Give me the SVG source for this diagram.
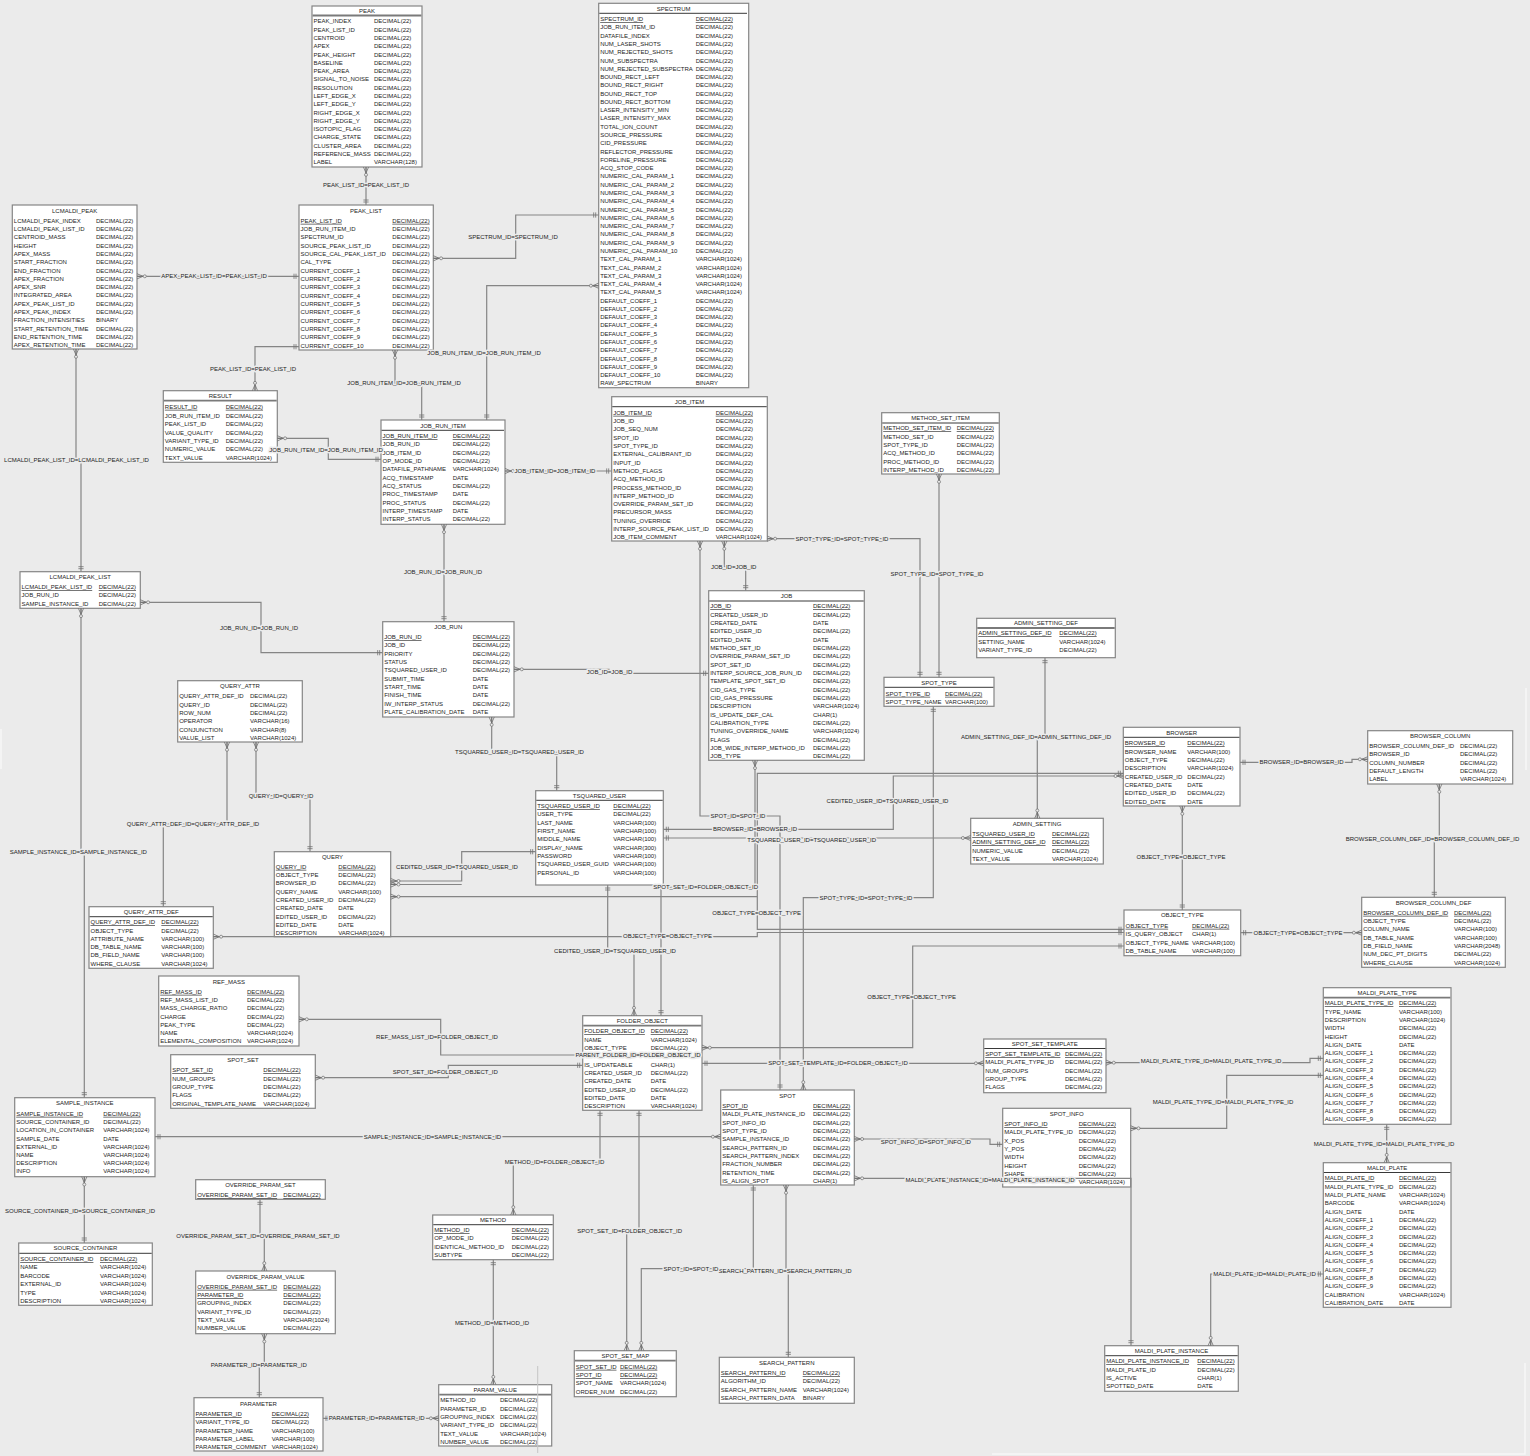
<svg xmlns="http://www.w3.org/2000/svg" width="1530" height="1456" viewBox="0 0 1530 1456">
<style>
.tb{fill:#fff;stroke:#858585;stroke-width:1.2}
.t{font-family:"Liberation Sans",Arial,sans-serif;font-size:6px;fill:#1c1c1c}
.tt{text-anchor:middle}
.pk{text-decoration:underline}
.sp{stroke:#7a7a7a;stroke-width:1.8}
.sk{stroke:#222;stroke-width:0.9}
.c{fill:none;stroke:#858585;stroke-width:1.2}
.m1{marker-start:url(#many)}
.o1{marker-start:url(#one)}
.m2{marker-end:url(#many)}
.o2{marker-end:url(#one)}
.lb{font-family:"Liberation Sans",Arial,sans-serif;font-size:6px;fill:#1c1c1c;text-anchor:middle;paint-order:stroke;stroke:#ebebeb;stroke-width:3px;stroke-linejoin:round}
</style>
<defs>
<marker id="many" viewBox="-10 -5 12 10" refX="0" refY="0" markerWidth="12" markerHeight="10" markerUnits="userSpaceOnUse" orient="auto-start-reverse">
<path d="M-6,0L0,-2.6M-6,0L0,2.6M-6,0H0" fill="none" stroke="#6e6e6e" stroke-width="0.8"/>
<circle cx="-7.8" cy="0" r="1.5" fill="#ebebeb" stroke="#6e6e6e" stroke-width="0.7"/>
</marker>
<marker id="one" viewBox="-10 -5 12 10" refX="0" refY="0" markerWidth="12" markerHeight="10" markerUnits="userSpaceOnUse" orient="auto-start-reverse">
<path d="M-3,-2.6V2.6M-5,-2.6V2.6" fill="none" stroke="#6e6e6e" stroke-width="0.8"/>
</marker>
</defs>
<rect width="1530" height="1456" fill="#ebebeb"/>

<g id="tables">
<g id="t-peak">
<rect class="tb" x="312" y="6" width="110" height="161"/>
<text class="t tt" x="367" y="13.2">PEAK</text>
<line class="sp" x1="312.6" y1="15.5" x2="421.4" y2="15.5"/>
<text class="t" y="23.4"><tspan x="313.5">PEAK_INDEX</tspan><tspan x="313.5" dy="8.29">PEAK_LIST_ID</tspan><tspan x="313.5" dy="8.29">CENTROID</tspan><tspan x="313.5" dy="8.29">APEX</tspan><tspan x="313.5" dy="8.29">PEAK_HEIGHT</tspan><tspan x="313.5" dy="8.29">BASELINE</tspan><tspan x="313.5" dy="8.29">PEAK_AREA</tspan><tspan x="313.5" dy="8.29">SIGNAL_TO_NOISE</tspan><tspan x="313.5" dy="8.29">RESOLUTION</tspan><tspan x="313.5" dy="8.29">LEFT_EDGE_X</tspan><tspan x="313.5" dy="8.29">LEFT_EDGE_Y</tspan><tspan x="313.5" dy="8.29">RIGHT_EDGE_X</tspan><tspan x="313.5" dy="8.29">RIGHT_EDGE_Y</tspan><tspan x="313.5" dy="8.29">ISOTOPIC_FLAG</tspan><tspan x="313.5" dy="8.29">CHARGE_STATE</tspan><tspan x="313.5" dy="8.29">CLUSTER_AREA</tspan><tspan x="313.5" dy="8.29">REFERENCE_MASS</tspan><tspan x="313.5" dy="8.29">LABEL</tspan></text>
<text class="t" y="23.4"><tspan x="374">DECIMAL(22)</tspan><tspan x="374" dy="8.29">DECIMAL(22)</tspan><tspan x="374" dy="8.29">DECIMAL(22)</tspan><tspan x="374" dy="8.29">DECIMAL(22)</tspan><tspan x="374" dy="8.29">DECIMAL(22)</tspan><tspan x="374" dy="8.29">DECIMAL(22)</tspan><tspan x="374" dy="8.29">DECIMAL(22)</tspan><tspan x="374" dy="8.29">DECIMAL(22)</tspan><tspan x="374" dy="8.29">DECIMAL(22)</tspan><tspan x="374" dy="8.29">DECIMAL(22)</tspan><tspan x="374" dy="8.29">DECIMAL(22)</tspan><tspan x="374" dy="8.29">DECIMAL(22)</tspan><tspan x="374" dy="8.29">DECIMAL(22)</tspan><tspan x="374" dy="8.29">DECIMAL(22)</tspan><tspan x="374" dy="8.29">DECIMAL(22)</tspan><tspan x="374" dy="8.29">DECIMAL(22)</tspan><tspan x="374" dy="8.29">DECIMAL(22)</tspan><tspan x="374" dy="8.29">VARCHAR(128)</tspan></text>
</g>

<g id="t-peak-list">
<rect class="tb" x="299" y="205" width="134.3" height="145"/>
<text class="t tt" x="366" y="212.8">PEAK_LIST</text>
<text class="t pk" x="300.5" y="222.8">PEAK_LIST_ID</text><text class="t pk" x="392.3" y="222.8">DECIMAL(22)</text>
<text class="t" y="231.1"><tspan x="300.5">JOB_RUN_ITEM_ID</tspan><tspan x="300.5" dy="8.33">SPECTRUM_ID</tspan><tspan x="300.5" dy="8.33">SOURCE_PEAK_LIST_ID</tspan><tspan x="300.5" dy="8.33">SOURCE_CAL_PEAK_LIST_ID</tspan><tspan x="300.5" dy="8.33">CAL_TYPE</tspan><tspan x="300.5" dy="8.33">CURRENT_COEFF_1</tspan><tspan x="300.5" dy="8.33">CURRENT_COEFF_2</tspan><tspan x="300.5" dy="8.33">CURRENT_COEFF_3</tspan><tspan x="300.5" dy="8.33">CURRENT_COEFF_4</tspan><tspan x="300.5" dy="8.33">CURRENT_COEFF_5</tspan><tspan x="300.5" dy="8.33">CURRENT_COEFF_6</tspan><tspan x="300.5" dy="8.33">CURRENT_COEFF_7</tspan><tspan x="300.5" dy="8.33">CURRENT_COEFF_8</tspan><tspan x="300.5" dy="8.33">CURRENT_COEFF_9</tspan><tspan x="300.5" dy="8.33">CURRENT_COEFF_10</tspan></text>
<text class="t" y="231.1"><tspan x="392.3">DECIMAL(22)</tspan><tspan x="392.3" dy="8.33">DECIMAL(22)</tspan><tspan x="392.3" dy="8.33">DECIMAL(22)</tspan><tspan x="392.3" dy="8.33">DECIMAL(22)</tspan><tspan x="392.3" dy="8.33">DECIMAL(22)</tspan><tspan x="392.3" dy="8.33">DECIMAL(22)</tspan><tspan x="392.3" dy="8.33">DECIMAL(22)</tspan><tspan x="392.3" dy="8.33">DECIMAL(22)</tspan><tspan x="392.3" dy="8.33">DECIMAL(22)</tspan><tspan x="392.3" dy="8.33">DECIMAL(22)</tspan><tspan x="392.3" dy="8.33">DECIMAL(22)</tspan><tspan x="392.3" dy="8.33">DECIMAL(22)</tspan><tspan x="392.3" dy="8.33">DECIMAL(22)</tspan><tspan x="392.3" dy="8.33">DECIMAL(22)</tspan><tspan x="392.3" dy="8.33">DECIMAL(22)</tspan></text>
</g>

<g id="t-lcmaldi-peak">
<rect class="tb" x="12.3" y="205" width="124.7" height="144"/>
<text class="t tt" x="74.7" y="212.8">LCMALDI_PEAK</text>
<text class="t" y="222.8"><tspan x="13.8">LCMALDI_PEAK_INDEX</tspan><tspan x="13.8" dy="8.29">LCMALDI_PEAK_LIST_ID</tspan><tspan x="13.8" dy="8.29">CENTROID_MASS</tspan><tspan x="13.8" dy="8.29">HEIGHT</tspan><tspan x="13.8" dy="8.29">APEX_MASS</tspan><tspan x="13.8" dy="8.29">START_FRACTION</tspan><tspan x="13.8" dy="8.29">END_FRACTION</tspan><tspan x="13.8" dy="8.29">APEX_FRACTION</tspan><tspan x="13.8" dy="8.29">APEX_SNR</tspan><tspan x="13.8" dy="8.29">INTEGRATED_AREA</tspan><tspan x="13.8" dy="8.29">APEX_PEAK_LIST_ID</tspan><tspan x="13.8" dy="8.29">APEX_PEAK_INDEX</tspan><tspan x="13.8" dy="8.29">FRACTION_INTENSITIES</tspan><tspan x="13.8" dy="8.29">START_RETENTION_TIME</tspan><tspan x="13.8" dy="8.29">END_RETENTION_TIME</tspan><tspan x="13.8" dy="8.29">APEX_RETENTION_TIME</tspan></text>
<text class="t" y="222.8"><tspan x="96">DECIMAL(22)</tspan><tspan x="96" dy="8.29">DECIMAL(22)</tspan><tspan x="96" dy="8.29">DECIMAL(22)</tspan><tspan x="96" dy="8.29">DECIMAL(22)</tspan><tspan x="96" dy="8.29">DECIMAL(22)</tspan><tspan x="96" dy="8.29">DECIMAL(22)</tspan><tspan x="96" dy="8.29">DECIMAL(22)</tspan><tspan x="96" dy="8.29">DECIMAL(22)</tspan><tspan x="96" dy="8.29">DECIMAL(22)</tspan><tspan x="96" dy="8.29">DECIMAL(22)</tspan><tspan x="96" dy="8.29">DECIMAL(22)</tspan><tspan x="96" dy="8.29">DECIMAL(22)</tspan><tspan x="96" dy="8.29">BINARY</tspan><tspan x="96" dy="8.29">DECIMAL(22)</tspan><tspan x="96" dy="8.29">DECIMAL(22)</tspan><tspan x="96" dy="8.29">DECIMAL(22)</tspan></text>
</g>

<g id="t-spectrum">
<rect class="tb" x="598.7" y="3.3" width="150" height="384.4"/>
<text class="t tt" x="673.7" y="11.1">SPECTRUM</text>
<line class="sk" x1="599.3" y1="13.3" x2="747" y2="13.3"/>
<text class="t pk" x="600.2" y="21.1">SPECTRUM_ID</text><text class="t pk" x="695.7" y="21.1">DECIMAL(22)</text>
<text class="t" y="29.4"><tspan x="600.2">JOB_RUN_ITEM_ID</tspan><tspan x="600.2" dy="8.28">DATAFILE_INDEX</tspan><tspan x="600.2" dy="8.28">NUM_LASER_SHOTS</tspan><tspan x="600.2" dy="8.28">NUM_REJECTED_SHOTS</tspan><tspan x="600.2" dy="8.28">NUM_SUBSPECTRA</tspan><tspan x="600.2" dy="8.28">NUM_REJECTED_SUBSPECTRA</tspan><tspan x="600.2" dy="8.28">BOUND_RECT_LEFT</tspan><tspan x="600.2" dy="8.28">BOUND_RECT_RIGHT</tspan><tspan x="600.2" dy="8.28">BOUND_RECT_TOP</tspan><tspan x="600.2" dy="8.28">BOUND_RECT_BOTTOM</tspan><tspan x="600.2" dy="8.28">LASER_INTENSITY_MIN</tspan><tspan x="600.2" dy="8.28">LASER_INTENSITY_MAX</tspan><tspan x="600.2" dy="8.28">TOTAL_ION_COUNT</tspan><tspan x="600.2" dy="8.28">SOURCE_PRESSURE</tspan><tspan x="600.2" dy="8.28">CID_PRESSURE</tspan><tspan x="600.2" dy="8.28">REFLECTOR_PRESSURE</tspan><tspan x="600.2" dy="8.28">FORELINE_PRESSURE</tspan><tspan x="600.2" dy="8.28">ACQ_STOP_CODE</tspan><tspan x="600.2" dy="8.28">NUMERIC_CAL_PARAM_1</tspan><tspan x="600.2" dy="8.28">NUMERIC_CAL_PARAM_2</tspan><tspan x="600.2" dy="8.28">NUMERIC_CAL_PARAM_3</tspan><tspan x="600.2" dy="8.28">NUMERIC_CAL_PARAM_4</tspan><tspan x="600.2" dy="8.28">NUMERIC_CAL_PARAM_5</tspan><tspan x="600.2" dy="8.28">NUMERIC_CAL_PARAM_6</tspan><tspan x="600.2" dy="8.28">NUMERIC_CAL_PARAM_7</tspan><tspan x="600.2" dy="8.28">NUMERIC_CAL_PARAM_8</tspan><tspan x="600.2" dy="8.28">NUMERIC_CAL_PARAM_9</tspan><tspan x="600.2" dy="8.28">NUMERIC_CAL_PARAM_10</tspan><tspan x="600.2" dy="8.28">TEXT_CAL_PARAM_1</tspan><tspan x="600.2" dy="8.28">TEXT_CAL_PARAM_2</tspan><tspan x="600.2" dy="8.28">TEXT_CAL_PARAM_3</tspan><tspan x="600.2" dy="8.28">TEXT_CAL_PARAM_4</tspan><tspan x="600.2" dy="8.28">TEXT_CAL_PARAM_5</tspan><tspan x="600.2" dy="8.28">DEFAULT_COEFF_1</tspan><tspan x="600.2" dy="8.28">DEFAULT_COEFF_2</tspan><tspan x="600.2" dy="8.28">DEFAULT_COEFF_3</tspan><tspan x="600.2" dy="8.28">DEFAULT_COEFF_4</tspan><tspan x="600.2" dy="8.28">DEFAULT_COEFF_5</tspan><tspan x="600.2" dy="8.28">DEFAULT_COEFF_6</tspan><tspan x="600.2" dy="8.28">DEFAULT_COEFF_7</tspan><tspan x="600.2" dy="8.28">DEFAULT_COEFF_8</tspan><tspan x="600.2" dy="8.28">DEFAULT_COEFF_9</tspan><tspan x="600.2" dy="8.28">DEFAULT_COEFF_10</tspan><tspan x="600.2" dy="8.28">RAW_SPECTRUM</tspan></text>
<text class="t" y="29.4"><tspan x="695.7">DECIMAL(22)</tspan><tspan x="695.7" dy="8.28">DECIMAL(22)</tspan><tspan x="695.7" dy="8.28">DECIMAL(22)</tspan><tspan x="695.7" dy="8.28">DECIMAL(22)</tspan><tspan x="695.7" dy="8.28">DECIMAL(22)</tspan><tspan x="695.7" dy="8.28">DECIMAL(22)</tspan><tspan x="695.7" dy="8.28">DECIMAL(22)</tspan><tspan x="695.7" dy="8.28">DECIMAL(22)</tspan><tspan x="695.7" dy="8.28">DECIMAL(22)</tspan><tspan x="695.7" dy="8.28">DECIMAL(22)</tspan><tspan x="695.7" dy="8.28">DECIMAL(22)</tspan><tspan x="695.7" dy="8.28">DECIMAL(22)</tspan><tspan x="695.7" dy="8.28">DECIMAL(22)</tspan><tspan x="695.7" dy="8.28">DECIMAL(22)</tspan><tspan x="695.7" dy="8.28">DECIMAL(22)</tspan><tspan x="695.7" dy="8.28">DECIMAL(22)</tspan><tspan x="695.7" dy="8.28">DECIMAL(22)</tspan><tspan x="695.7" dy="8.28">DECIMAL(22)</tspan><tspan x="695.7" dy="8.28">DECIMAL(22)</tspan><tspan x="695.7" dy="8.28">DECIMAL(22)</tspan><tspan x="695.7" dy="8.28">DECIMAL(22)</tspan><tspan x="695.7" dy="8.28">DECIMAL(22)</tspan><tspan x="695.7" dy="8.28">DECIMAL(22)</tspan><tspan x="695.7" dy="8.28">DECIMAL(22)</tspan><tspan x="695.7" dy="8.28">DECIMAL(22)</tspan><tspan x="695.7" dy="8.28">DECIMAL(22)</tspan><tspan x="695.7" dy="8.28">DECIMAL(22)</tspan><tspan x="695.7" dy="8.28">DECIMAL(22)</tspan><tspan x="695.7" dy="8.28">VARCHAR(1024)</tspan><tspan x="695.7" dy="8.28">VARCHAR(1024)</tspan><tspan x="695.7" dy="8.28">VARCHAR(1024)</tspan><tspan x="695.7" dy="8.28">VARCHAR(1024)</tspan><tspan x="695.7" dy="8.28">VARCHAR(1024)</tspan><tspan x="695.7" dy="8.28">DECIMAL(22)</tspan><tspan x="695.7" dy="8.28">DECIMAL(22)</tspan><tspan x="695.7" dy="8.28">DECIMAL(22)</tspan><tspan x="695.7" dy="8.28">DECIMAL(22)</tspan><tspan x="695.7" dy="8.28">DECIMAL(22)</tspan><tspan x="695.7" dy="8.28">DECIMAL(22)</tspan><tspan x="695.7" dy="8.28">DECIMAL(22)</tspan><tspan x="695.7" dy="8.28">DECIMAL(22)</tspan><tspan x="695.7" dy="8.28">DECIMAL(22)</tspan><tspan x="695.7" dy="8.28">DECIMAL(22)</tspan><tspan x="695.7" dy="8.28">BINARY</tspan></text>
</g>

<g id="t-result">
<rect class="tb" x="163.3" y="390.7" width="114" height="71.6"/>
<text class="t tt" x="220.3" y="398.1">RESULT</text>
<line class="sp" x1="163.9" y1="400.7" x2="276.7" y2="400.7"/>
<text class="t pk" x="164.8" y="408.8">RESULT_ID</text><text class="t pk" x="225.7" y="408.8">DECIMAL(22)</text>
<text class="t" y="417.8"><tspan x="164.8">JOB_RUN_ITEM_ID</tspan><tspan x="164.8" dy="8.4">PEAK_LIST_ID</tspan><tspan x="164.8" dy="8.4">VALUE_QUALITY</tspan><tspan x="164.8" dy="8.4">VARIANT_TYPE_ID</tspan><tspan x="164.8" dy="8.4">NUMERIC_VALUE</tspan><tspan x="164.8" dy="8.4">TEXT_VALUE</tspan></text>
<text class="t" y="417.8"><tspan x="225.7">DECIMAL(22)</tspan><tspan x="225.7" dy="8.4">DECIMAL(22)</tspan><tspan x="225.7" dy="8.4">DECIMAL(22)</tspan><tspan x="225.7" dy="8.4">DECIMAL(22)</tspan><tspan x="225.7" dy="8.4">DECIMAL(22)</tspan><tspan x="225.7" dy="8.4">VARCHAR(1024)</tspan></text>
</g>

<g id="t-job-run-item">
<rect class="tb" x="381" y="420" width="124" height="104.3"/>
<text class="t tt" x="443" y="428.1">JOB_RUN_ITEM</text>
<line class="sk" x1="381.6" y1="430.3" x2="504" y2="430.3"/>
<text class="t pk" x="382.5" y="438.1">JOB_RUN_ITEM_ID</text><text class="t pk" x="452.7" y="438.1">DECIMAL(22)</text>
<text class="t" y="446.4"><tspan x="382.5">JOB_RUN_ID</tspan><tspan x="382.5" dy="8.3">JOB_ITEM_ID</tspan><tspan x="382.5" dy="8.3">OP_MODE_ID</tspan><tspan x="382.5" dy="8.3">DATAFILE_PATHNAME</tspan><tspan x="382.5" dy="8.3">ACQ_TIMESTAMP</tspan><tspan x="382.5" dy="8.3">ACQ_STATUS</tspan><tspan x="382.5" dy="8.3">PROC_TIMESTAMP</tspan><tspan x="382.5" dy="8.3">PROC_STATUS</tspan><tspan x="382.5" dy="8.3">INTERP_TIMESTAMP</tspan><tspan x="382.5" dy="8.3">INTERP_STATUS</tspan></text>
<text class="t" y="446.4"><tspan x="452.7">DECIMAL(22)</tspan><tspan x="452.7" dy="8.3">DECIMAL(22)</tspan><tspan x="452.7" dy="8.3">DECIMAL(22)</tspan><tspan x="452.7" dy="8.3">VARCHAR(1024)</tspan><tspan x="452.7" dy="8.3">DATE</tspan><tspan x="452.7" dy="8.3">DECIMAL(22)</tspan><tspan x="452.7" dy="8.3">DATE</tspan><tspan x="452.7" dy="8.3">DECIMAL(22)</tspan><tspan x="452.7" dy="8.3">DATE</tspan><tspan x="452.7" dy="8.3">DECIMAL(22)</tspan></text>
</g>

<g id="t-lcmaldi-peak-list">
<rect class="tb" x="20" y="571.7" width="120.3" height="36.6"/>
<text class="t tt" x="80.2" y="579.1">LCMALDI_PEAK_LIST</text>
<text class="t pk" x="21.5" y="589.1">LCMALDI_PEAK_LIST_ID</text><text class="t pk" x="98.7" y="589.1">DECIMAL(22)</text>
<text class="t" y="597.4"><tspan x="21.5">JOB_RUN_ID</tspan><tspan x="21.5" dy="8.3">SAMPLE_INSTANCE_ID</tspan></text>
<text class="t" y="597.4"><tspan x="98.7">DECIMAL(22)</tspan><tspan x="98.7" dy="8.3">DECIMAL(22)</tspan></text>
</g>

<g id="t-job-run">
<rect class="tb" x="382.7" y="621.7" width="131.3" height="95.3"/>
<text class="t tt" x="448.3" y="629.1">JOB_RUN</text>
<text class="t pk" x="384.2" y="639.1">JOB_RUN_ID</text><text class="t pk" x="472.7" y="639.1">DECIMAL(22)</text>
<text class="t" y="647.4"><tspan x="384.2">JOB_ID</tspan><tspan x="384.2" dy="8.3">PRIORITY</tspan><tspan x="384.2" dy="8.3">STATUS</tspan><tspan x="384.2" dy="8.3">TSQUARED_USER_ID</tspan><tspan x="384.2" dy="8.3">SUBMIT_TIME</tspan><tspan x="384.2" dy="8.3">START_TIME</tspan><tspan x="384.2" dy="8.3">FINISH_TIME</tspan><tspan x="384.2" dy="8.3">IW_INTERP_STATUS</tspan><tspan x="384.2" dy="8.3">PLATE_CALIBRATION_DATE</tspan></text>
<text class="t" y="647.4"><tspan x="472.7">DECIMAL(22)</tspan><tspan x="472.7" dy="8.3">DECIMAL(22)</tspan><tspan x="472.7" dy="8.3">DECIMAL(22)</tspan><tspan x="472.7" dy="8.3">DECIMAL(22)</tspan><tspan x="472.7" dy="8.3">DATE</tspan><tspan x="472.7" dy="8.3">DATE</tspan><tspan x="472.7" dy="8.3">DATE</tspan><tspan x="472.7" dy="8.3">DECIMAL(22)</tspan><tspan x="472.7" dy="8.3">DATE</tspan></text>
</g>

<g id="t-query-attr">
<rect class="tb" x="177.7" y="680.7" width="124.6" height="61.3"/>
<text class="t tt" x="240" y="688.4">QUERY_ATTR</text>
<text class="t" y="698.4"><tspan x="179.2">QUERY_ATTR_DEF_ID</tspan><tspan x="179.2" dy="8.3">QUERY_ID</tspan><tspan x="179.2" dy="8.3">ROW_NUM</tspan><tspan x="179.2" dy="8.3">OPERATOR</tspan><tspan x="179.2" dy="8.3">CONJUNCTION</tspan><tspan x="179.2" dy="8.3">VALUE_LIST</tspan></text>
<text class="t" y="698.4"><tspan x="250">DECIMAL(22)</tspan><tspan x="250" dy="8.3">DECIMAL(22)</tspan><tspan x="250" dy="8.3">DECIMAL(22)</tspan><tspan x="250" dy="8.3">VARCHAR(16)</tspan><tspan x="250" dy="8.3">VARCHAR(8)</tspan><tspan x="250" dy="8.3">VARCHAR(1024)</tspan></text>
</g>

<g id="t-job-item">
<rect class="tb" x="611.7" y="396.7" width="155.6" height="144.3"/>
<text class="t tt" x="689.5" y="404.1">JOB_ITEM</text>
<line class="sk" x1="612.3" y1="406.7" x2="766.7" y2="406.7"/>
<text class="t pk" x="613.2" y="414.8">JOB_ITEM_ID</text><text class="t pk" x="715.7" y="414.8">DECIMAL(22)</text>
<text class="t" y="423.1"><tspan x="613.2">JOB_ID</tspan><tspan x="613.2" dy="8.3">JOB_SEQ_NUM</tspan><tspan x="613.2" dy="8.3">SPOT_ID</tspan><tspan x="613.2" dy="8.3">SPOT_TYPE_ID</tspan><tspan x="613.2" dy="8.3">EXTERNAL_CALIBRANT_ID</tspan><tspan x="613.2" dy="8.3">INPUT_ID</tspan><tspan x="613.2" dy="8.3">METHOD_FLAGS</tspan><tspan x="613.2" dy="8.3">ACQ_METHOD_ID</tspan><tspan x="613.2" dy="8.3">PROCESS_METHOD_ID</tspan><tspan x="613.2" dy="8.3">INTERP_METHOD_ID</tspan><tspan x="613.2" dy="8.3">OVERRIDE_PARAM_SET_ID</tspan><tspan x="613.2" dy="8.3">PRECURSOR_MASS</tspan><tspan x="613.2" dy="8.3">TUNING_OVERRIDE</tspan><tspan x="613.2" dy="8.3">INTERP_SOURCE_PEAK_LIST_ID</tspan><tspan x="613.2" dy="8.3">JOB_ITEM_COMMENT</tspan></text>
<text class="t" y="423.1"><tspan x="715.7">DECIMAL(22)</tspan><tspan x="715.7" dy="8.3">DECIMAL(22)</tspan><tspan x="715.7" dy="8.3">DECIMAL(22)</tspan><tspan x="715.7" dy="8.3">DECIMAL(22)</tspan><tspan x="715.7" dy="8.3">DECIMAL(22)</tspan><tspan x="715.7" dy="8.3">DECIMAL(22)</tspan><tspan x="715.7" dy="8.3">DECIMAL(22)</tspan><tspan x="715.7" dy="8.3">DECIMAL(22)</tspan><tspan x="715.7" dy="8.3">DECIMAL(22)</tspan><tspan x="715.7" dy="8.3">DECIMAL(22)</tspan><tspan x="715.7" dy="8.3">DECIMAL(22)</tspan><tspan x="715.7" dy="8.3">DECIMAL(22)</tspan><tspan x="715.7" dy="8.3">DECIMAL(22)</tspan><tspan x="715.7" dy="8.3">DECIMAL(22)</tspan><tspan x="715.7" dy="8.3">VARCHAR(1024)</tspan></text>
</g>

<g id="t-method-set-item">
<rect class="tb" x="881.7" y="412.7" width="117.6" height="61.3"/>
<text class="t tt" x="940.5" y="420.1">METHOD_SET_ITEM</text>
<line class="sk" x1="882.3" y1="423" x2="998.7" y2="423"/>
<text class="t pk" x="883.2" y="430.4">METHOD_SET_ITEM_ID</text><text class="t pk" x="956.7" y="430.4">DECIMAL(22)</text>
<text class="t" y="438.7"><tspan x="883.2">METHOD_SET_ID</tspan><tspan x="883.2" dy="8.33">SPOT_TYPE_ID</tspan><tspan x="883.2" dy="8.33">ACQ_METHOD_ID</tspan><tspan x="883.2" dy="8.33">PROC_METHOD_ID</tspan><tspan x="883.2" dy="8.33">INTERP_METHOD_ID</tspan></text>
<text class="t" y="438.7"><tspan x="956.7">DECIMAL(22)</tspan><tspan x="956.7" dy="8.33">DECIMAL(22)</tspan><tspan x="956.7" dy="8.33">DECIMAL(22)</tspan><tspan x="956.7" dy="8.33">DECIMAL(22)</tspan><tspan x="956.7" dy="8.33">DECIMAL(22)</tspan></text>
</g>

<g id="t-job">
<rect class="tb" x="708.7" y="590.7" width="155.6" height="169.6"/>
<text class="t tt" x="786.5" y="598.4">JOB</text>
<line class="sk" x1="709.3" y1="601" x2="863.7" y2="601"/>
<text class="t pk" x="710.2" y="608.4">JOB_ID</text><text class="t pk" x="813" y="608.4">DECIMAL(22)</text>
<text class="t" y="616.7"><tspan x="710.2">CREATED_USER_ID</tspan><tspan x="710.2" dy="8.32">CREATED_DATE</tspan><tspan x="710.2" dy="8.32">EDITED_USER_ID</tspan><tspan x="710.2" dy="8.32">EDITED_DATE</tspan><tspan x="710.2" dy="8.32">METHOD_SET_ID</tspan><tspan x="710.2" dy="8.32">OVERRIDE_PARAM_SET_ID</tspan><tspan x="710.2" dy="8.32">SPOT_SET_ID</tspan><tspan x="710.2" dy="8.32">INTERP_SOURCE_JOB_RUN_ID</tspan><tspan x="710.2" dy="8.32">TEMPLATE_SPOT_SET_ID</tspan><tspan x="710.2" dy="8.32">CID_GAS_TYPE</tspan><tspan x="710.2" dy="8.32">CID_GAS_PRESSURE</tspan><tspan x="710.2" dy="8.32">DESCRIPTION</tspan><tspan x="710.2" dy="8.32">IS_UPDATE_DEF_CAL</tspan><tspan x="710.2" dy="8.32">CALIBRATION_TYPE</tspan><tspan x="710.2" dy="8.32">TUNING_OVERRIDE_NAME</tspan><tspan x="710.2" dy="8.32">FLAGS</tspan><tspan x="710.2" dy="8.32">JOB_WIDE_INTERP_METHOD_ID</tspan><tspan x="710.2" dy="8.32">JOB_TYPE</tspan></text>
<text class="t" y="616.7"><tspan x="813">DECIMAL(22)</tspan><tspan x="813" dy="8.32">DATE</tspan><tspan x="813" dy="8.32">DECIMAL(22)</tspan><tspan x="813" dy="8.32">DATE</tspan><tspan x="813" dy="8.32">DECIMAL(22)</tspan><tspan x="813" dy="8.32">DECIMAL(22)</tspan><tspan x="813" dy="8.32">DECIMAL(22)</tspan><tspan x="813" dy="8.32">DECIMAL(22)</tspan><tspan x="813" dy="8.32">DECIMAL(22)</tspan><tspan x="813" dy="8.32">DECIMAL(22)</tspan><tspan x="813" dy="8.32">DECIMAL(22)</tspan><tspan x="813" dy="8.32">VARCHAR(1024)</tspan><tspan x="813" dy="8.32">CHAR(1)</tspan><tspan x="813" dy="8.32">DECIMAL(22)</tspan><tspan x="813" dy="8.32">VARCHAR(1024)</tspan><tspan x="813" dy="8.32">DECIMAL(22)</tspan><tspan x="813" dy="8.32">DECIMAL(22)</tspan><tspan x="813" dy="8.32">DECIMAL(22)</tspan></text>
</g>

<g id="t-spot-type">
<rect class="tb" x="884" y="677.3" width="110" height="29"/>
<text class="t tt" x="939" y="685.1">SPOT_TYPE</text>
<line class="sk" x1="884.6" y1="687.3" x2="993.4" y2="687.3"/>
<text class="t pk" x="885.5" y="695.8">SPOT_TYPE_ID</text><text class="t pk" x="945" y="695.8">DECIMAL(22)</text>
<text class="t" x="885.5" y="703.8">SPOT_TYPE_NAME</text><text class="t" x="945" y="703.8">VARCHAR(100)</text>
</g>

<g id="t-admin-setting-def">
<rect class="tb" x="976.7" y="618.3" width="138.6" height="39.4"/>
<text class="t tt" x="1046" y="625.4">ADMIN_SETTING_DEF</text>
<line class="sp" x1="977.3" y1="628" x2="1114.7" y2="628"/>
<text class="t pk" x="978.2" y="635.4">ADMIN_SETTING_DEF_ID</text><text class="t pk" x="1059.3" y="635.4">DECIMAL(22)</text>
<text class="t" y="643.9"><tspan x="978.2">SETTING_NAME</tspan><tspan x="978.2" dy="8">VARIANT_TYPE_ID</tspan></text>
<text class="t" y="643.9"><tspan x="1059.3">VARCHAR(1024)</tspan><tspan x="1059.3" dy="8">DECIMAL(22)</tspan></text>
</g>

<g id="t-browser">
<rect class="tb" x="1123.3" y="727.3" width="116.7" height="78.7"/>
<text class="t tt" x="1181.7" y="734.8">BROWSER</text>
<line class="sk" x1="1123.9" y1="737.3" x2="1239.4" y2="737.3"/>
<text class="t pk" x="1124.8" y="745.4">BROWSER_ID</text><text class="t pk" x="1187.3" y="745.4">DECIMAL(22)</text>
<text class="t" y="753.7"><tspan x="1124.8">BROWSER_NAME</tspan><tspan x="1124.8" dy="8.33">OBJECT_TYPE</tspan><tspan x="1124.8" dy="8.33">DESCRIPTION</tspan><tspan x="1124.8" dy="8.33">CREATED_USER_ID</tspan><tspan x="1124.8" dy="8.33">CREATED_DATE</tspan><tspan x="1124.8" dy="8.33">EDITED_USER_ID</tspan><tspan x="1124.8" dy="8.33">EDITED_DATE</tspan></text>
<text class="t" y="753.7"><tspan x="1187.3">VARCHAR(100)</tspan><tspan x="1187.3" dy="8.33">DECIMAL(22)</tspan><tspan x="1187.3" dy="8.33">VARCHAR(1024)</tspan><tspan x="1187.3" dy="8.33">DECIMAL(22)</tspan><tspan x="1187.3" dy="8.33">DATE</tspan><tspan x="1187.3" dy="8.33">DECIMAL(22)</tspan><tspan x="1187.3" dy="8.33">DATE</tspan></text>
</g>

<g id="t-browser-column">
<rect class="tb" x="1367.7" y="730.7" width="145" height="53.3"/>
<text class="t tt" x="1440.2" y="738.1">BROWSER_COLUMN</text>
<text class="t" y="748.1"><tspan x="1369.2">BROWSER_COLUMN_DEF_ID</tspan><tspan x="1369.2" dy="8.33">BROWSER_ID</tspan><tspan x="1369.2" dy="8.33">COLUMN_NUMBER</tspan><tspan x="1369.2" dy="8.33">DEFAULT_LENGTH</tspan><tspan x="1369.2" dy="8.33">LABEL</tspan></text>
<text class="t" y="748.1"><tspan x="1460">DECIMAL(22)</tspan><tspan x="1460" dy="8.33">DECIMAL(22)</tspan><tspan x="1460" dy="8.33">DECIMAL(22)</tspan><tspan x="1460" dy="8.33">DECIMAL(22)</tspan><tspan x="1460" dy="8.33">VARCHAR(1024)</tspan></text>
</g>

<g id="t-tsquared-user">
<rect class="tb" x="535.7" y="790.7" width="127.6" height="94.3"/>
<text class="t tt" x="599.5" y="797.8">TSQUARED_USER</text>
<line class="sk" x1="536.3" y1="800.3" x2="662.7" y2="800.3"/>
<text class="t pk" x="537.2" y="808.1">TSQUARED_USER_ID</text><text class="t pk" x="613.3" y="808.1">DECIMAL(22)</text>
<text class="t" y="816.4"><tspan x="537.2">USER_TYPE</tspan><tspan x="537.2" dy="8.33">LAST_NAME</tspan><tspan x="537.2" dy="8.33">FIRST_NAME</tspan><tspan x="537.2" dy="8.33">MIDDLE_NAME</tspan><tspan x="537.2" dy="8.33">DISPLAY_NAME</tspan><tspan x="537.2" dy="8.33">PASSWORD</tspan><tspan x="537.2" dy="8.33">TSQUARED_USER_GUID</tspan><tspan x="537.2" dy="8.33">PERSONAL_ID</tspan></text>
<text class="t" y="816.4"><tspan x="613.3">DECIMAL(22)</tspan><tspan x="613.3" dy="8.33">VARCHAR(100)</tspan><tspan x="613.3" dy="8.33">VARCHAR(100)</tspan><tspan x="613.3" dy="8.33">VARCHAR(100)</tspan><tspan x="613.3" dy="8.33">VARCHAR(300)</tspan><tspan x="613.3" dy="8.33">VARCHAR(100)</tspan><tspan x="613.3" dy="8.33">VARCHAR(100)</tspan><tspan x="613.3" dy="8.33">VARCHAR(100)</tspan></text>
</g>

<g id="t-admin-setting">
<rect class="tb" x="970.7" y="818.3" width="132.6" height="45.7"/>
<text class="t tt" x="1037" y="826.1">ADMIN_SETTING</text>
<text class="t pk" x="972.2" y="836.1">TSQUARED_USER_ID</text><text class="t pk" x="1052" y="836.1">DECIMAL(22)</text>
<text class="t pk" x="972.2" y="844.4">ADMIN_SETTING_DEF_ID</text><text class="t pk" x="1052" y="844.4">DECIMAL(22)</text>
<text class="t" y="852.7"><tspan x="972.2">NUMERIC_VALUE</tspan><tspan x="972.2" dy="8.3">TEXT_VALUE</tspan></text>
<text class="t" y="852.7"><tspan x="1052">DECIMAL(22)</tspan><tspan x="1052" dy="8.3">VARCHAR(1024)</tspan></text>
</g>

<g id="t-query">
<rect class="tb" x="274.3" y="851.7" width="116.4" height="85"/>
<text class="t tt" x="332.5" y="858.8">QUERY</text>
<text class="t pk" x="275.8" y="868.8">QUERY_ID</text><text class="t pk" x="338.3" y="868.8">DECIMAL(22)</text>
<text class="t" y="877.1"><tspan x="275.8">OBJECT_TYPE</tspan><tspan x="275.8" dy="8.33">BROWSER_ID</tspan><tspan x="275.8" dy="8.33">QUERY_NAME</tspan><tspan x="275.8" dy="8.33">CREATED_USER_ID</tspan><tspan x="275.8" dy="8.33">CREATED_DATE</tspan><tspan x="275.8" dy="8.33">EDITED_USER_ID</tspan><tspan x="275.8" dy="8.33">EDITED_DATE</tspan><tspan x="275.8" dy="8.33">DESCRIPTION</tspan></text>
<text class="t" y="877.1"><tspan x="338.3">DECIMAL(22)</tspan><tspan x="338.3" dy="8.33">DECIMAL(22)</tspan><tspan x="338.3" dy="8.33">VARCHAR(100)</tspan><tspan x="338.3" dy="8.33">DECIMAL(22)</tspan><tspan x="338.3" dy="8.33">DATE</tspan><tspan x="338.3" dy="8.33">DECIMAL(22)</tspan><tspan x="338.3" dy="8.33">DATE</tspan><tspan x="338.3" dy="8.33">VARCHAR(1024)</tspan></text>
</g>

<g id="t-query-attr-def">
<rect class="tb" x="89" y="906.7" width="124.3" height="61.6"/>
<text class="t tt" x="151.2" y="914.1">QUERY_ATTR_DEF</text>
<line class="sk" x1="89.6" y1="916.7" x2="212.7" y2="916.7"/>
<text class="t pk" x="90.5" y="924.4">QUERY_ATTR_DEF_ID</text><text class="t pk" x="161.3" y="924.4">DECIMAL(22)</text>
<text class="t" y="932.7"><tspan x="90.5">OBJECT_TYPE</tspan><tspan x="90.5" dy="8.2">ATTRIBUTE_NAME</tspan><tspan x="90.5" dy="8.2">DB_TABLE_NAME</tspan><tspan x="90.5" dy="8.2">DB_FIELD_NAME</tspan><tspan x="90.5" dy="8.2">WHERE_CLAUSE</tspan></text>
<text class="t" y="932.7"><tspan x="161.3">DECIMAL(22)</tspan><tspan x="161.3" dy="8.2">VARCHAR(100)</tspan><tspan x="161.3" dy="8.2">VARCHAR(100)</tspan><tspan x="161.3" dy="8.2">VARCHAR(100)</tspan><tspan x="161.3" dy="8.2">VARCHAR(1024)</tspan></text>
</g>

<g id="t-ref-mass">
<rect class="tb" x="158.7" y="976" width="140.3" height="70"/>
<text class="t tt" x="228.8" y="983.8">REF_MASS</text>
<text class="t pk" x="160.2" y="993.8">REF_MASS_ID</text><text class="t pk" x="247" y="993.8">DECIMAL(22)</text>
<text class="t" y="1002.1"><tspan x="160.2">REF_MASS_LIST_ID</tspan><tspan x="160.2" dy="8.27">MASS_CHARGE_RATIO</tspan><tspan x="160.2" dy="8.27">CHARGE</tspan><tspan x="160.2" dy="8.27">PEAK_TYPE</tspan><tspan x="160.2" dy="8.27">NAME</tspan><tspan x="160.2" dy="8.27">ELEMENTAL_COMPOSITION</tspan></text>
<text class="t" y="1002.1"><tspan x="247">DECIMAL(22)</tspan><tspan x="247" dy="8.27">DECIMAL(22)</tspan><tspan x="247" dy="8.27">DECIMAL(22)</tspan><tspan x="247" dy="8.27">DECIMAL(22)</tspan><tspan x="247" dy="8.27">VARCHAR(1024)</tspan><tspan x="247" dy="8.27">VARCHAR(1024)</tspan></text>
</g>

<g id="t-spot-set">
<rect class="tb" x="170.7" y="1054.7" width="144.6" height="53.6"/>
<text class="t tt" x="243" y="1062.4">SPOT_SET</text>
<text class="t pk" x="172.2" y="1072.4">SPOT_SET_ID</text><text class="t pk" x="263.3" y="1072.4">DECIMAL(22)</text>
<text class="t" y="1080.7"><tspan x="172.2">NUM_GROUPS</tspan><tspan x="172.2" dy="8.33">GROUP_TYPE</tspan><tspan x="172.2" dy="8.33">FLAGS</tspan><tspan x="172.2" dy="8.33">ORIGINAL_TEMPLATE_NAME</tspan></text>
<text class="t" y="1080.7"><tspan x="263.3">DECIMAL(22)</tspan><tspan x="263.3" dy="8.33">DECIMAL(22)</tspan><tspan x="263.3" dy="8.33">DECIMAL(22)</tspan><tspan x="263.3" dy="8.33">VARCHAR(1024)</tspan></text>
</g>

<g id="t-folder-object">
<rect class="tb" x="582.7" y="1015.7" width="119.3" height="94.6"/>
<text class="t tt" x="642.3" y="1023.4">FOLDER_OBJECT</text>
<line class="sp" x1="583.3" y1="1025.7" x2="701.4" y2="1025.7"/>
<text class="t pk" x="584.2" y="1033.4">FOLDER_OBJECT_ID</text><text class="t pk" x="650.7" y="1033.4">DECIMAL(22)</text>
<text class="t" y="1041.7"><tspan x="584.2">NAME</tspan><tspan x="584.2" dy="8.3">OBJECT_TYPE</tspan></text>
<text class="t" y="1041.7"><tspan x="650.7">VARCHAR(1024)</tspan><tspan x="650.7" dy="8.3">DECIMAL(22)</tspan></text>
<text class="t" y="1066.6"><tspan x="584.2">IS_UPDATEABLE</tspan><tspan x="584.2" dy="8.3">CREATED_USER_ID</tspan><tspan x="584.2" dy="8.3">CREATED_DATE</tspan><tspan x="584.2" dy="8.3">EDITED_USER_ID</tspan><tspan x="584.2" dy="8.3">EDITED_DATE</tspan><tspan x="584.2" dy="8.3">DESCRIPTION</tspan></text>
<text class="t" y="1066.6"><tspan x="650.7">CHAR(1)</tspan><tspan x="650.7" dy="8.3">DECIMAL(22)</tspan><tspan x="650.7" dy="8.3">DATE</tspan><tspan x="650.7" dy="8.3">DECIMAL(22)</tspan><tspan x="650.7" dy="8.3">DATE</tspan><tspan x="650.7" dy="8.3">VARCHAR(1024)</tspan></text>
</g>

<g id="t-spot">
<rect class="tb" x="720.7" y="1090" width="133.6" height="95"/>
<text class="t tt" x="787.5" y="1097.6">SPOT</text>
<text class="t pk" x="722.2" y="1108.1">SPOT_ID</text><text class="t pk" x="813" y="1108.1">DECIMAL(22)</text>
<text class="t" y="1116.4"><tspan x="722.2">MALDI_PLATE_INSTANCE_ID</tspan><tspan x="722.2" dy="8.3">SPOT_INFO_ID</tspan><tspan x="722.2" dy="8.3">SPOT_TYPE_ID</tspan><tspan x="722.2" dy="8.3">SAMPLE_INSTANCE_ID</tspan><tspan x="722.2" dy="8.3">SEARCH_PATTERN_ID</tspan><tspan x="722.2" dy="8.3">SEARCH_PATTERN_INDEX</tspan><tspan x="722.2" dy="8.3">FRACTION_NUMBER</tspan><tspan x="722.2" dy="8.3">RETENTION_TIME</tspan><tspan x="722.2" dy="8.3">IS_ALIGN_SPOT</tspan></text>
<text class="t" y="1116.4"><tspan x="813">DECIMAL(22)</tspan><tspan x="813" dy="8.3">DECIMAL(22)</tspan><tspan x="813" dy="8.3">DECIMAL(22)</tspan><tspan x="813" dy="8.3">DECIMAL(22)</tspan><tspan x="813" dy="8.3">DECIMAL(22)</tspan><tspan x="813" dy="8.3">DECIMAL(22)</tspan><tspan x="813" dy="8.3">DECIMAL(22)</tspan><tspan x="813" dy="8.3">DECIMAL(22)</tspan><tspan x="813" dy="8.3">CHAR(1)</tspan></text>
</g>

<g id="t-spot-set-template">
<rect class="tb" x="983.7" y="1039" width="122.3" height="53.7"/>
<text class="t tt" x="1044.8" y="1046.4">SPOT_SET_TEMPLATE</text>
<line class="sk" x1="984.3" y1="1048.5" x2="1105.4" y2="1048.5"/>
<text class="t pk" x="985.2" y="1056.1">SPOT_SET_TEMPLATE_ID</text><text class="t pk" x="1065" y="1056.1">DECIMAL(22)</text>
<text class="t" y="1064.4"><tspan x="985.2">MALDI_PLATE_TYPE_ID</tspan><tspan x="985.2" dy="8.3">NUM_GROUPS</tspan><tspan x="985.2" dy="8.3">GROUP_TYPE</tspan><tspan x="985.2" dy="8.3">FLAGS</tspan></text>
<text class="t" y="1064.4"><tspan x="1065">DECIMAL(22)</tspan><tspan x="1065" dy="8.3">DECIMAL(22)</tspan><tspan x="1065" dy="8.3">DECIMAL(22)</tspan><tspan x="1065" dy="8.3">DECIMAL(22)</tspan></text>
</g>

<g id="t-object-type">
<rect class="tb" x="1124" y="910" width="116.7" height="45.7"/>
<text class="t tt" x="1182.3" y="917.4">OBJECT_TYPE</text>
<text class="t pk" x="1125.5" y="927.8">OBJECT_TYPE</text><text class="t pk" x="1192" y="927.8">DECIMAL(22)</text>
<text class="t" y="936.1"><tspan x="1125.5">IS_QUERY_OBJECT</tspan><tspan x="1125.5" dy="8.4">OBJECT_TYPE_NAME</tspan><tspan x="1125.5" dy="8.4">DB_TABLE_NAME</tspan></text>
<text class="t" y="936.1"><tspan x="1192">CHAR(1)</tspan><tspan x="1192" dy="8.4">VARCHAR(100)</tspan><tspan x="1192" dy="8.4">VARCHAR(100)</tspan></text>
</g>

<g id="t-browser-column-def">
<rect class="tb" x="1361.7" y="897.3" width="143.6" height="70"/>
<text class="t tt" x="1433.5" y="904.8">BROWSER_COLUMN_DEF</text>
<text class="t pk" x="1363.2" y="914.8">BROWSER_COLUMN_DEF_ID</text><text class="t pk" x="1454" y="914.8">DECIMAL(22)</text>
<text class="t" y="923.1"><tspan x="1363.2">OBJECT_TYPE</tspan><tspan x="1363.2" dy="8.33">COLUMN_NAME</tspan><tspan x="1363.2" dy="8.33">DB_TABLE_NAME</tspan><tspan x="1363.2" dy="8.33">DB_FIELD_NAME</tspan><tspan x="1363.2" dy="8.33">NUM_DEC_PT_DIGITS</tspan><tspan x="1363.2" dy="8.33">WHERE_CLAUSE</tspan></text>
<text class="t" y="923.1"><tspan x="1454">DECIMAL(22)</tspan><tspan x="1454" dy="8.33">VARCHAR(100)</tspan><tspan x="1454" dy="8.33">VARCHAR(100)</tspan><tspan x="1454" dy="8.33">VARCHAR(2048)</tspan><tspan x="1454" dy="8.33">DECIMAL(22)</tspan><tspan x="1454" dy="8.33">VARCHAR(1024)</tspan></text>
</g>

<g id="t-maldi-plate-type">
<rect class="tb" x="1323.3" y="987.7" width="127.7" height="136.6"/>
<text class="t tt" x="1387.2" y="995.4">MALDI_PLATE_TYPE</text>
<line class="sp" x1="1323.9" y1="997.7" x2="1450.4" y2="997.7"/>
<text class="t pk" x="1324.8" y="1005.4">MALDI_PLATE_TYPE_ID</text><text class="t pk" x="1399" y="1005.4">DECIMAL(22)</text>
<text class="t" y="1013.7"><tspan x="1324.8">TYPE_NAME</tspan><tspan x="1324.8" dy="8.29">DESCRIPTION</tspan><tspan x="1324.8" dy="8.29">WIDTH</tspan><tspan x="1324.8" dy="8.29">HEIGHT</tspan><tspan x="1324.8" dy="8.29">ALIGN_DATE</tspan><tspan x="1324.8" dy="8.29">ALIGN_COEFF_1</tspan><tspan x="1324.8" dy="8.29">ALIGN_COEFF_2</tspan><tspan x="1324.8" dy="8.29">ALIGN_COEFF_3</tspan><tspan x="1324.8" dy="8.29">ALIGN_COEFF_4</tspan><tspan x="1324.8" dy="8.29">ALIGN_COEFF_5</tspan><tspan x="1324.8" dy="8.29">ALIGN_COEFF_6</tspan><tspan x="1324.8" dy="8.29">ALIGN_COEFF_7</tspan><tspan x="1324.8" dy="8.29">ALIGN_COEFF_8</tspan><tspan x="1324.8" dy="8.29">ALIGN_COEFF_9</tspan></text>
<text class="t" y="1013.7"><tspan x="1399">VARCHAR(100)</tspan><tspan x="1399" dy="8.29">VARCHAR(1024)</tspan><tspan x="1399" dy="8.29">DECIMAL(22)</tspan><tspan x="1399" dy="8.29">DECIMAL(22)</tspan><tspan x="1399" dy="8.29">DATE</tspan><tspan x="1399" dy="8.29">DECIMAL(22)</tspan><tspan x="1399" dy="8.29">DECIMAL(22)</tspan><tspan x="1399" dy="8.29">DECIMAL(22)</tspan><tspan x="1399" dy="8.29">DECIMAL(22)</tspan><tspan x="1399" dy="8.29">DECIMAL(22)</tspan><tspan x="1399" dy="8.29">DECIMAL(22)</tspan><tspan x="1399" dy="8.29">DECIMAL(22)</tspan><tspan x="1399" dy="8.29">DECIMAL(22)</tspan><tspan x="1399" dy="8.29">DECIMAL(22)</tspan></text>
</g>

<g id="t-maldi-plate">
<rect class="tb" x="1323.3" y="1162.7" width="127.7" height="144.6"/>
<text class="t tt" x="1387.2" y="1169.8">MALDI_PLATE</text>
<line class="sk" x1="1323.9" y1="1172.5" x2="1450.4" y2="1172.5"/>
<text class="t pk" x="1324.8" y="1180.4">MALDI_PLATE_ID</text><text class="t pk" x="1399" y="1180.4">DECIMAL(22)</text>
<text class="t" y="1188.7"><tspan x="1324.8">MALDI_PLATE_TYPE_ID</tspan><tspan x="1324.8" dy="8.31">MALDI_PLATE_NAME</tspan><tspan x="1324.8" dy="8.31">BARCODE</tspan><tspan x="1324.8" dy="8.31">ALIGN_DATE</tspan><tspan x="1324.8" dy="8.31">ALIGN_COEFF_1</tspan><tspan x="1324.8" dy="8.31">ALIGN_COEFF_2</tspan><tspan x="1324.8" dy="8.31">ALIGN_COEFF_3</tspan><tspan x="1324.8" dy="8.31">ALIGN_COEFF_4</tspan><tspan x="1324.8" dy="8.31">ALIGN_COEFF_5</tspan><tspan x="1324.8" dy="8.31">ALIGN_COEFF_6</tspan><tspan x="1324.8" dy="8.31">ALIGN_COEFF_7</tspan><tspan x="1324.8" dy="8.31">ALIGN_COEFF_8</tspan><tspan x="1324.8" dy="8.31">ALIGN_COEFF_9</tspan><tspan x="1324.8" dy="8.31">CALIBRATION</tspan><tspan x="1324.8" dy="8.31">CALIBRATION_DATE</tspan></text>
<text class="t" y="1188.7"><tspan x="1399">DECIMAL(22)</tspan><tspan x="1399" dy="8.31">VARCHAR(1024)</tspan><tspan x="1399" dy="8.31">VARCHAR(1024)</tspan><tspan x="1399" dy="8.31">DATE</tspan><tspan x="1399" dy="8.31">DECIMAL(22)</tspan><tspan x="1399" dy="8.31">DECIMAL(22)</tspan><tspan x="1399" dy="8.31">DECIMAL(22)</tspan><tspan x="1399" dy="8.31">DECIMAL(22)</tspan><tspan x="1399" dy="8.31">DECIMAL(22)</tspan><tspan x="1399" dy="8.31">DECIMAL(22)</tspan><tspan x="1399" dy="8.31">DECIMAL(22)</tspan><tspan x="1399" dy="8.31">DECIMAL(22)</tspan><tspan x="1399" dy="8.31">DECIMAL(22)</tspan><tspan x="1399" dy="8.31">VARCHAR(1024)</tspan><tspan x="1399" dy="8.31">DATE</tspan></text>
</g>

<g id="t-maldi-plate-instance">
<rect class="tb" x="1104.7" y="1345.7" width="133.6" height="45.6"/>
<text class="t tt" x="1171.5" y="1353.1">MALDI_PLATE_INSTANCE</text>
<line class="sk" x1="1105.3" y1="1355.7" x2="1237.7" y2="1355.7"/>
<text class="t pk" x="1106.2" y="1363.4">MALDI_PLATE_INSTANCE_ID</text><text class="t pk" x="1197.3" y="1363.4">DECIMAL(22)</text>
<text class="t" y="1371.7"><tspan x="1106.2">MALDI_PLATE_ID</tspan><tspan x="1106.2" dy="8.3">IS_ACTIVE</tspan><tspan x="1106.2" dy="8.3">SPOTTED_DATE</tspan></text>
<text class="t" y="1371.7"><tspan x="1197.3">DECIMAL(22)</tspan><tspan x="1197.3" dy="8.3">CHAR(1)</tspan><tspan x="1197.3" dy="8.3">DATE</tspan></text>
</g>

<g id="t-spot-info">
<rect class="tb" x="1002.7" y="1108.3" width="128" height="78.7"/>
<text class="t tt" x="1066.7" y="1115.8">SPOT_INFO</text>
<text class="t pk" x="1004.2" y="1126.1">SPOT_INFO_ID</text><text class="t pk" x="1078.7" y="1126.1">DECIMAL(22)</text>
<text class="t" y="1134.4"><tspan x="1004.2">MALDI_PLATE_TYPE_ID</tspan><tspan x="1004.2" dy="8.3">X_POS</tspan><tspan x="1004.2" dy="8.3">Y_POS</tspan><tspan x="1004.2" dy="8.3">WIDTH</tspan><tspan x="1004.2" dy="8.3">HEIGHT</tspan><tspan x="1004.2" dy="8.3">SHAPE</tspan></text>
<text class="t" y="1134.4"><tspan x="1078.7">DECIMAL(22)</tspan><tspan x="1078.7" dy="8.3">DECIMAL(22)</tspan><tspan x="1078.7" dy="8.3">DECIMAL(22)</tspan><tspan x="1078.7" dy="8.3">DECIMAL(22)</tspan><tspan x="1078.7" dy="8.3">DECIMAL(22)</tspan><tspan x="1078.7" dy="8.3">DECIMAL(22)</tspan><tspan x="1078.7" dy="8.3">VARCHAR(1024)</tspan></text>
</g>

<g id="t-sample-instance">
<rect class="tb" x="14.7" y="1097.7" width="140.3" height="79"/>
<text class="t tt" x="84.8" y="1105.4">SAMPLE_INSTANCE</text>
<text class="t pk" x="16.2" y="1115.8">SAMPLE_INSTANCE_ID</text><text class="t pk" x="103.3" y="1115.8">DECIMAL(22)</text>
<text class="t" y="1124.1"><tspan x="16.2">SOURCE_CONTAINER_ID</tspan><tspan x="16.2" dy="8.23">LOCATION_IN_CONTAINER</tspan><tspan x="16.2" dy="8.23">SAMPLE_DATE</tspan><tspan x="16.2" dy="8.23">EXTERNAL_ID</tspan><tspan x="16.2" dy="8.23">NAME</tspan><tspan x="16.2" dy="8.23">DESCRIPTION</tspan><tspan x="16.2" dy="8.23">INFO</tspan></text>
<text class="t" y="1124.1"><tspan x="103.3">DECIMAL(22)</tspan><tspan x="103.3" dy="8.23">VARCHAR(1024)</tspan><tspan x="103.3" dy="8.23">DATE</tspan><tspan x="103.3" dy="8.23">VARCHAR(1024)</tspan><tspan x="103.3" dy="8.23">VARCHAR(1024)</tspan><tspan x="103.3" dy="8.23">VARCHAR(1024)</tspan><tspan x="103.3" dy="8.23">VARCHAR(1024)</tspan></text>
</g>

<g id="t-override-param-set">
<rect class="tb" x="195.7" y="1179.7" width="129.6" height="19.6"/>
<text class="t tt" x="260.5" y="1187.1">OVERRIDE_PARAM_SET</text>
<text class="t pk" x="197.2" y="1197.1">OVERRIDE_PARAM_SET_ID</text><text class="t pk" x="283.3" y="1197.1">DECIMAL(22)</text>
</g>

<g id="t-source-container">
<rect class="tb" x="18.7" y="1243" width="133.6" height="62.3"/>
<text class="t tt" x="85.5" y="1250.4">SOURCE_CONTAINER</text>
<line class="sk" x1="19.3" y1="1253.3" x2="151.7" y2="1253.3"/>
<text class="t pk" x="20.2" y="1261.1">SOURCE_CONTAINER_ID</text><text class="t pk" x="100" y="1261.1">DECIMAL(22)</text>
<text class="t" y="1269.4"><tspan x="20.2">NAME</tspan><tspan x="20.2" dy="8.4">BARCODE</tspan><tspan x="20.2" dy="8.4">EXTERNAL_ID</tspan><tspan x="20.2" dy="8.4">TYPE</tspan><tspan x="20.2" dy="8.4">DESCRIPTION</tspan></text>
<text class="t" y="1269.4"><tspan x="100">VARCHAR(1024)</tspan><tspan x="100" dy="8.4">VARCHAR(1024)</tspan><tspan x="100" dy="8.4">VARCHAR(1024)</tspan><tspan x="100" dy="8.4">VARCHAR(1024)</tspan><tspan x="100" dy="8.4">VARCHAR(1024)</tspan></text>
</g>

<g id="t-override-param-value">
<rect class="tb" x="195.7" y="1271" width="139.6" height="62.7"/>
<text class="t tt" x="265.5" y="1278.8">OVERRIDE_PARAM_VALUE</text>
<text class="t pk" x="197.2" y="1288.8">OVERRIDE_PARAM_SET_ID</text><text class="t pk" x="283.3" y="1288.8">DECIMAL(22)</text>
<text class="t pk" x="197.2" y="1297.1">PARAMETER_ID</text><text class="t pk" x="283.3" y="1297.1">DECIMAL(22)</text>
<text class="t" y="1305.4"><tspan x="197.2">GROUPING_INDEX</tspan><tspan x="197.2" dy="8.3">VARIANT_TYPE_ID</tspan><tspan x="197.2" dy="8.3">TEXT_VALUE</tspan><tspan x="197.2" dy="8.3">NUMBER_VALUE</tspan></text>
<text class="t" y="1305.4"><tspan x="283.3">DECIMAL(22)</tspan><tspan x="283.3" dy="8.3">DECIMAL(22)</tspan><tspan x="283.3" dy="8.3">VARCHAR(1024)</tspan><tspan x="283.3" dy="8.3">DECIMAL(22)</tspan></text>
</g>

<g id="t-method">
<rect class="tb" x="432.7" y="1215" width="120.6" height="44.7"/>
<text class="t tt" x="493" y="1222.1">METHOD</text>
<line class="sk" x1="433.3" y1="1224.7" x2="552.7" y2="1224.7"/>
<text class="t pk" x="434.2" y="1232.1">METHOD_ID</text><text class="t pk" x="511.7" y="1232.1">DECIMAL(22)</text>
<text class="t" y="1240.4"><tspan x="434.2">OP_MODE_ID</tspan><tspan x="434.2" dy="8.4">IDENTICAL_METHOD_ID</tspan><tspan x="434.2" dy="8.4">SUBTYPE</tspan></text>
<text class="t" y="1240.4"><tspan x="511.7">DECIMAL(22)</tspan><tspan x="511.7" dy="8.4">DECIMAL(22)</tspan><tspan x="511.7" dy="8.4">DECIMAL(22)</tspan></text>
</g>

<g id="t-parameter">
<rect class="tb" x="194" y="1397.7" width="129" height="53.3"/>
<text class="t tt" x="258.5" y="1405.8">PARAMETER</text>
<text class="t pk" x="195.5" y="1416.1">PARAMETER_ID</text><text class="t pk" x="271.7" y="1416.1">DECIMAL(22)</text>
<text class="t" y="1424.4"><tspan x="195.5">VARIANT_TYPE_ID</tspan><tspan x="195.5" dy="8.2">PARAMETER_NAME</tspan><tspan x="195.5" dy="8.2">PARAMETER_LABEL</tspan><tspan x="195.5" dy="8.2">PARAMETER_COMMENT</tspan></text>
<text class="t" y="1424.4"><tspan x="271.7">DECIMAL(22)</tspan><tspan x="271.7" dy="8.2">VARCHAR(100)</tspan><tspan x="271.7" dy="8.2">VARCHAR(100)</tspan><tspan x="271.7" dy="8.2">VARCHAR(1024)</tspan></text>
</g>

<g id="t-param-value">
<rect class="tb" x="438.7" y="1384.7" width="113" height="61.3"/>
<text class="t tt" x="495.2" y="1392.1">PARAM_VALUE</text>
<line class="sp" x1="439.3" y1="1394.7" x2="551.1" y2="1394.7"/>
<text class="t" y="1402.1"><tspan x="440.2">METHOD_ID</tspan><tspan x="440.2" dy="8.4">PARAMETER_ID</tspan><tspan x="440.2" dy="8.4">GROUPING_INDEX</tspan><tspan x="440.2" dy="8.4">VARIANT_TYPE_ID</tspan><tspan x="440.2" dy="8.4">TEXT_VALUE</tspan><tspan x="440.2" dy="8.4">NUMBER_VALUE</tspan></text>
<text class="t" y="1402.1"><tspan x="500">DECIMAL(22)</tspan><tspan x="500" dy="8.4">DECIMAL(22)</tspan><tspan x="500" dy="8.4">DECIMAL(22)</tspan><tspan x="500" dy="8.4">DECIMAL(22)</tspan><tspan x="500" dy="8.4">VARCHAR(1024)</tspan><tspan x="500" dy="8.4">DECIMAL(22)</tspan></text>
</g>

<g id="t-spot-set-map">
<rect class="tb" x="574.3" y="1350.7" width="102" height="46"/>
<text class="t tt" x="625.3" y="1358.1">SPOT_SET_MAP</text>
<line class="sp" x1="574.9" y1="1360.7" x2="675.7" y2="1360.7"/>
<text class="t pk" x="575.8" y="1368.8">SPOT_SET_ID</text><text class="t pk" x="620" y="1368.8">DECIMAL(22)</text>
<text class="t pk" x="575.8" y="1377.1">SPOT_ID</text><text class="t pk" x="620" y="1377.1">DECIMAL(22)</text>
<text class="t" y="1385.4"><tspan x="575.8">SPOT_NAME</tspan><tspan x="575.8" dy="8.3">ORDER_NUM</tspan></text>
<text class="t" y="1385.4"><tspan x="620">VARCHAR(1024)</tspan><tspan x="620" dy="8.3">DECIMAL(22)</tspan></text>
</g>

<g id="t-search-pattern">
<rect class="tb" x="719.3" y="1357.3" width="135" height="46"/>
<text class="t tt" x="786.8" y="1364.8">SEARCH_PATTERN</text>
<text class="t pk" x="720.8" y="1375.1">SEARCH_PATTERN_ID</text><text class="t pk" x="802.7" y="1375.1">DECIMAL(22)</text>
<text class="t" y="1383.4"><tspan x="720.8">ALGORITHM_ID</tspan><tspan x="720.8" dy="8.3">SEARCH_PATTERN_NAME</tspan><tspan x="720.8" dy="8.3">SEARCH_PATTERN_DATA</tspan></text>
<text class="t" y="1383.4"><tspan x="802.7">DECIMAL(22)</tspan><tspan x="802.7" dy="8.3">VARCHAR(1024)</tspan><tspan x="802.7" dy="8.3">BINARY</tspan></text>
</g>
</g>

<g id="connectors">
<path class="c m1 o2" d="M366,167V205"/>
<path class="c m1 o2" d="M137,276.3H299"/>
<path class="c m1 o2" d="M433.3,258.3H515.7V215H598.7"/>
<path class="c m1 o2" d="M598.7,285.7H486.7V420"/>
<path class="c m1 o2" d="M395,350V383.3H421.7V420"/>
<path class="c o1 m2" d="M299,346.7H255V390.7"/>
<path class="c m1 o2" d="M277.3,438.3H328.3V459.3H381"/>
<path class="c m1 o2" d="M505,471H611.7"/>
<path class="c m1 o2" d="M76,349V460H81V571.7"/>
<path class="c m1 o2" d="M140.3,602.3H261V652.7H382.7"/>
<path class="c m1 o2" d="M444,524.3V621.7"/>
<path class="c m1 o2" d="M724.3,541V566.7H745.7V590.7"/>
<path class="c m1 o2" d="M514,669.3H609V673.3H708.7"/>
<path class="c m1 o2" d="M767.3,538.7H920V677.3"/>
<path class="c m1 o2" d="M939,474V677.3"/>
<path class="c m1 o2" d="M491.7,717V752.3H556.7V790.7"/>
<path class="c m1 o2" d="M256,742V795.7H310V851.7"/>
<path class="c m1 o2" d="M227,742V824H163.3V906.7"/>
<path class="c m1 o2" d="M81,608.3V851.7H84.3V1097.7"/>
<path class="c m1 o2" d="M390.7,881H461.7V851.7H535.7"/>
<path class="c m1" d="M390.7,884.5H461.7"/>
<path class="c m1 o2" d="M390.7,896.7H757.3V773.3H1123.3"/>
<path class="c m1 o2" d="M1123.3,776H893.3V829.3H663.3"/>
<path class="c o1 m2" d="M663.3,838H970.7"/>
<path class="c o1 m2" d="M1045,657.7V737H1037.3V818.3"/>
<path class="c o1 m2" d="M1240,762.3H1352V759.3H1367.7"/>
<path class="c m1 o2" d="M1439.3,784V839H1434.3V897.3"/>
<path class="c m1 o2" d="M1182.3,806V910"/>
<path class="c o1 m2" d="M1240.7,932.7H1361.7"/>
<path class="c o2" d="M757.3,896.7V929.3H1124"/>
<path class="c m1 o2" d="M213.3,936.7H757.3V932.5H1124"/>
<path class="c m1 o2" d="M702,1047.7H912.7V946H1124"/>
<path class="c m1 o2" d="M755,760.3V887.3H661V1015.7"/>
<path class="c o1 m2" d="M607.7,885V950.7H634V1015.7"/>
<path class="c m1 o2" d="M700,541V816H780V1090"/>
<path class="c o1 m2" d="M933.3,706.3V897.7H803.3V1090"/>
<path class="c m1 o2" d="M299,1019.3H440.7V1055H582.7"/>
<path class="c m1 o2" d="M315.3,1077.7H448.3V1065.3H582.7"/>
<path class="c o1 m2" d="M702,1063.3H983.7"/>
<path class="c m1 o2" d="M854.3,1139H990V1144.3H1002.7"/>
<path class="c m1 o2" d="M854.3,1178.3H1131V1345.7"/>
<path class="c m1 o2" d="M1130.7,1128.3H1226.7V1075.3H1323.3"/>
<path class="c m1 o2" d="M1106,1062.7H1310V1058.3H1323.3"/>
<path class="c o1 m2" d="M1386.7,1124.3V1162.7"/>
<path class="c o1 m2" d="M1323.3,1274H1210.7V1345.7"/>
<path class="c o1 m2" d="M155,1136.7H720.7"/>
<path class="c o1 m2" d="M600,1110.3V1162.3H513.3V1215"/>
<path class="c o1 m2" d="M639,1110.3V1230.7H626.7V1350.7"/>
<path class="c o1 m2" d="M753.3,1185V1268.7H641.3V1350.7"/>
<path class="c m1 o2" d="M786,1185V1271.3H788.3V1357.3"/>
<path class="c o1 m2" d="M260,1199.3V1236H264.3V1271"/>
<path class="c m1 o2" d="M84.3,1176.7V1243"/>
<path class="c m1 o2" d="M264.3,1333.7V1365.3H259.3V1397.7"/>
<path class="c o1 m2" d="M323,1418.3H438.7"/>
<path class="c o1 m2" d="M493.3,1259.7V1384.7"/>

<text class="lb" x="366" y="187.1">PEAK_LIST_ID=PEAK_LIST_ID</text>
<text class="lb" x="214" y="278.4">APEX_PEAK_LIST_ID=PEAK_LIST_ID</text>
<text class="lb" x="513" y="238.8">SPECTRUM_ID=SPECTRUM_ID</text>
<text class="lb" x="484" y="354.8">JOB_RUN_ITEM_ID=JOB_RUN_ITEM_ID</text>
<text class="lb" x="404" y="385.4">JOB_RUN_ITEM_ID=JOB_RUN_ITEM_ID</text>
<text class="lb" x="253" y="371.4">PEAK_LIST_ID=PEAK_LIST_ID</text>
<text class="lb" x="326" y="451.8">JOB_RUN_ITEM_ID=JOB_RUN_ITEM_ID</text>
<text class="lb" x="555" y="472.8">JOB_ITEM_ID=JOB_ITEM_ID</text>
<text class="lb" x="76.5" y="462.1">LCMALDI_PEAK_LIST_ID=LCMALDI_PEAK_LIST_ID</text>
<text class="lb" x="259" y="629.8">JOB_RUN_ID=JOB_RUN_ID</text>
<text class="lb" x="443" y="573.8">JOB_RUN_ID=JOB_RUN_ID</text>
<text class="lb" x="733.7" y="568.8">JOB_ID=JOB_ID</text>
<text class="lb" x="609.5" y="673.6">JOB_ID=JOB_ID</text>
<text class="lb" x="842" y="540.8">SPOT_TYPE_ID=SPOT_TYPE_ID</text>
<text class="lb" x="937" y="576.4">SPOT_TYPE_ID=SPOT_TYPE_ID</text>
<text class="lb" x="519.5" y="754.4">TSQUARED_USER_ID=TSQUARED_USER_ID</text>
<text class="lb" x="281" y="797.8">QUERY_ID=QUERY_ID</text>
<text class="lb" x="193" y="826.1">QUERY_ATTR_DEF_ID=QUERY_ATTR_DEF_ID</text>
<text class="lb" x="78.3" y="853.8">SAMPLE_INSTANCE_ID=SAMPLE_INSTANCE_ID</text>
<text class="lb" x="457" y="868.8">CEDITED_USER_ID=TSQUARED_USER_ID</text>
<text class="lb" x="755" y="831.4">BROWSER_ID=BROWSER_ID</text>
<text class="lb" x="887.5" y="803.4">CEDITED_USER_ID=TSQUARED_USER_ID</text>
<text class="lb" x="811.7" y="842.1">TSQUARED_USER_ID=TSQUARED_USER_ID</text>
<text class="lb" x="1036" y="739.1">ADMIN_SETTING_DEF_ID=ADMIN_SETTING_DEF_ID</text>
<text class="lb" x="1301.5" y="764.4">BROWSER_ID=BROWSER_ID</text>
<text class="lb" x="1432.5" y="841.1">BROWSER_COLUMN_DEF_ID=BROWSER_COLUMN_DEF_ID</text>
<text class="lb" x="1181" y="859.1">OBJECT_TYPE=OBJECT_TYPE</text>
<text class="lb" x="1298" y="934.8">OBJECT_TYPE=OBJECT_TYPE</text>
<text class="lb" x="756.7" y="914.8">OBJECT_TYPE=OBJECT_TYPE</text>
<text class="lb" x="667.5" y="937.8">OBJECT_TYPE=OBJECT_TYPE</text>
<text class="lb" x="911.7" y="998.8">OBJECT_TYPE=OBJECT_TYPE</text>
<text class="lb" x="705.7" y="889.4">SPOT_SET_ID=FOLDER_OBJECT_ID</text>
<text class="lb" x="615" y="952.8">CEDITED_USER_ID=TSQUARED_USER_ID</text>
<text class="lb" x="738" y="818.1">SPOT_ID=SPOT_ID</text>
<text class="lb" x="866" y="899.8">SPOT_TYPE_ID=SPOT_TYPE_ID</text>
<text class="lb" x="437" y="1039.4">REF_MASS_LIST_ID=FOLDER_OBJECT_ID</text>
<text class="lb" x="445.3" y="1073.8">SPOT_SET_ID=FOLDER_OBJECT_ID</text>
<text class="lb" x="638" y="1057.1">PARENT_FOLDER_ID=FOLDER_OBJECT_ID</text>
<text class="lb" x="838" y="1065.4">SPOT_SET_TEMPLATE_ID=FOLDER_OBJECT_ID</text>
<text class="lb" x="925.8" y="1143.8">SPOT_INFO_ID=SPOT_INFO_ID</text>
<text class="lb" x="990" y="1182.1">MALDI_PLATE_INSTANCE_ID=MALDI_PLATE_INSTANCE_ID</text>
<text class="lb" x="1223" y="1103.8">MALDI_PLATE_TYPE_ID=MALDI_PLATE_TYPE_ID</text>
<text class="lb" x="1211" y="1062.8">MALDI_PLATE_TYPE_ID=MALDI_PLATE_TYPE_ID</text>
<text class="lb" x="1384" y="1146.4">MALDI_PLATE_TYPE_ID=MALDI_PLATE_TYPE_ID</text>
<text class="lb" x="1264.5" y="1276.1">MALDI_PLATE_ID=MALDI_PLATE_ID</text>
<text class="lb" x="432.5" y="1138.8">SAMPLE_INSTANCE_ID=SAMPLE_INSTANCE_ID</text>
<text class="lb" x="554.5" y="1164.4">METHOD_ID=FOLDER_OBJECT_ID</text>
<text class="lb" x="629.7" y="1232.8">SPOT_SET_ID=FOLDER_OBJECT_ID</text>
<text class="lb" x="785" y="1273.4">SEARCH_PATTERN_ID=SEARCH_PATTERN_ID</text>
<text class="lb" x="691" y="1270.8">SPOT_ID=SPOT_ID</text>
<text class="lb" x="258" y="1238.1">OVERRIDE_PARAM_SET_ID=OVERRIDE_PARAM_SET_ID</text>
<text class="lb" x="80" y="1212.8">SOURCE_CONTAINER_ID=SOURCE_CONTAINER_ID</text>
<text class="lb" x="258.8" y="1367.4">PARAMETER_ID=PARAMETER_ID</text>
<text class="lb" x="376.7" y="1420.4">PARAMETER_ID=PARAMETER_ID</text>
<text class="lb" x="492" y="1324.8">METHOD_ID=METHOD_ID</text>
</g>

<g id="page-edges" fill="none">
<path d="M1,729V769M1526,688V770M992,1454H1525V1363" stroke="#f8f8f8" stroke-width="1.5"/>
<path d="M537.7,1366V1453" stroke="#c6c6c6" stroke-width="1"/>
</g>
</svg>
